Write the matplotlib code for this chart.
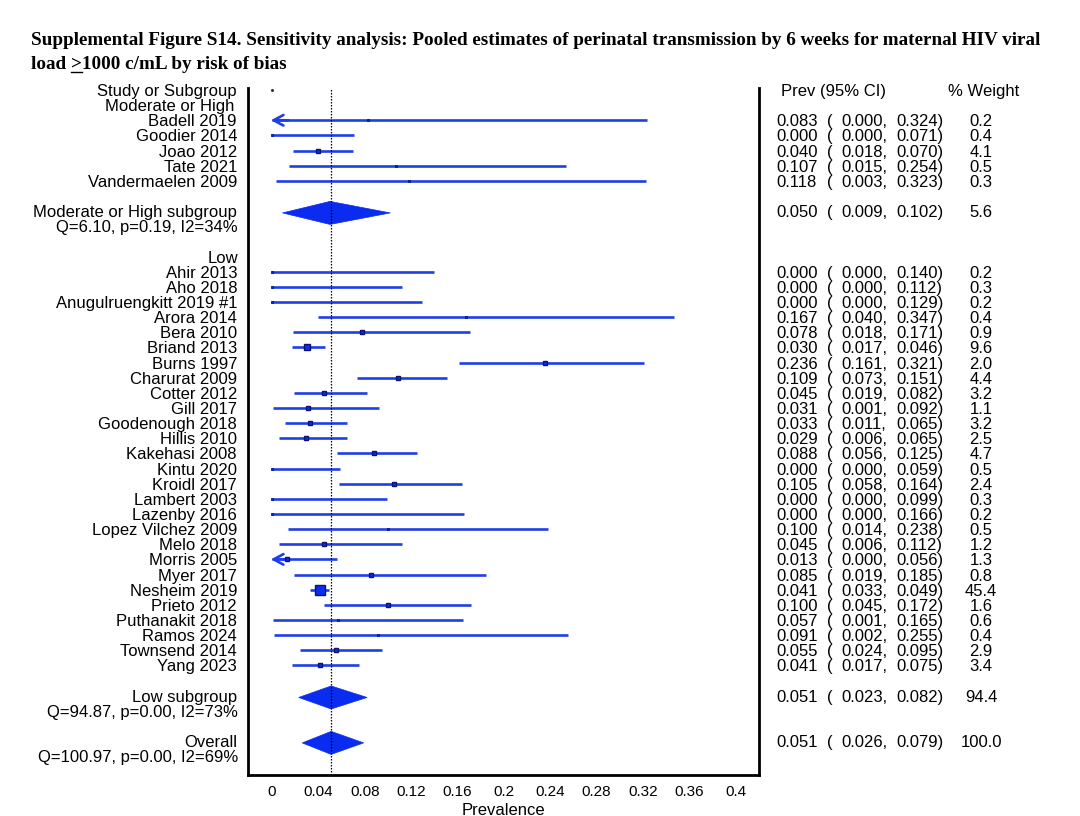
import numpy as np
import matplotlib
matplotlib.use("Agg")
import matplotlib.pyplot as plt
from matplotlib.transforms import blended_transform_factory
from matplotlib.patches import Polygon

plt.rcParams['font.family'] = ['Liberation Sans', 'DejaVu Sans']

# ---------------- data ----------------
mod_studies = ["Badell 2019", "Goodier 2014", "Joao 2012", "Tate 2021", "Vandermaelen 2009"]
mod_est = [0.083, 0.000, 0.040, 0.107, 0.118]
mod_lo = [0.000, 0.000, 0.018, 0.015, 0.003]
mod_hi = [0.324, 0.071, 0.070, 0.254, 0.323]
mod_w = [0.2, 0.4, 4.1, 0.5, 0.3]
mod_arrow = [True, False, False, False, False]

low_studies = ["Ahir 2013", "Aho 2018", "Anugulruengkitt 2019 #1", "Arora 2014", "Bera 2010",
               "Briand 2013", "Burns 1997", "Charurat 2009", "Cotter 2012", "Gill 2017",
               "Goodenough 2018", "Hillis 2010", "Kakehasi 2008", "Kintu 2020", "Kroidl 2017",
               "Lambert 2003", "Lazenby 2016", "Lopez Vilchez 2009", "Melo 2018", "Morris 2005",
               "Myer 2017", "Nesheim 2019", "Prieto 2012", "Puthanakit 2018", "Ramos 2024",
               "Townsend 2014", "Yang 2023"]
low_est = [0.000, 0.000, 0.000, 0.167, 0.078, 0.030, 0.236, 0.109, 0.045, 0.031,
           0.033, 0.029, 0.088, 0.000, 0.105, 0.000, 0.000, 0.100, 0.045, 0.013,
           0.085, 0.041, 0.100, 0.057, 0.091, 0.055, 0.041]
low_lo = [0.000, 0.000, 0.000, 0.040, 0.018, 0.017, 0.161, 0.073, 0.019, 0.001,
          0.011, 0.006, 0.056, 0.000, 0.058, 0.000, 0.000, 0.014, 0.006, 0.000,
          0.019, 0.033, 0.045, 0.001, 0.002, 0.024, 0.017]
low_hi = [0.140, 0.112, 0.129, 0.347, 0.171, 0.046, 0.321, 0.151, 0.082, 0.092,
          0.065, 0.065, 0.125, 0.059, 0.164, 0.099, 0.166, 0.238, 0.112, 0.056,
          0.185, 0.049, 0.172, 0.165, 0.255, 0.095, 0.075]
low_w = [0.2, 0.3, 0.2, 0.4, 0.9, 9.6, 2.0, 4.4, 3.2, 1.1,
         3.2, 2.5, 4.7, 0.5, 2.4, 0.3, 0.2, 0.5, 1.2, 1.3,
         0.8, 45.4, 1.6, 0.6, 0.4, 2.9, 3.4]
low_arrow = [False] * 19 + [True] + [False] * 7

pooled_names = ["Moderate or High subgroup", "Low subgroup", "Overall"]
pooled_stats = ["Q=6.10, p=0.19, I2=34%", "Q=94.87, p=0.00, I2=73%", "Q=100.97, p=0.00, I2=69%"]
pooled_est = [0.050, 0.051, 0.051]
pooled_lo = [0.009, 0.023, 0.026]
pooled_hi = [0.102, 0.082, 0.079]
pooled_w = [5.6, 94.4, 100.0]

xticks = [0, 0.04, 0.08, 0.12, 0.16, 0.2, 0.24, 0.28, 0.32, 0.36, 0.4]
xticklabels = ["0", "0.04", "0.08", "0.12", "0.16", "0.2", "0.24", "0.28", "0.32", "0.36", "0.4"]

title1 = "Supplemental Figure S14. Sensitivity analysis: Pooled estimates of perinatal transmission by 6 weeks for maternal HIV viral"
title2a = "load "
title2b = ">"
title2c = "1000 c/mL by risk of bias"

# ---------------- layout ----------------
W, H = 1080, 816
fig = plt.figure(figsize=(W / 100, H / 100), dpi=100)
ax = fig.add_axes([248 / W, 1 - 775 / H, (759 - 248) / W, (775 - 88) / H])
ax.set_xlim(-0.0208, 0.4203)
ax.set_ylim(45.24, -0.13)

LINE_C = "#1f3fe6"
SQ_FACE = "#0a2cf5"
SQ_EDGE = "#0a1470"
DIA_C = "#0a2cf0"

fs = 12
fsr = 12
trx = blended_transform_factory(fig.transFigure, ax.transData)

def px(x):
    return x / W

rows = []  # (row, label, est, lo, hi, w, arrow)
r = 2
for i in range(len(mod_studies)):
    rows.append((r, mod_studies[i], mod_est[i], mod_lo[i], mod_hi[i], mod_w[i], mod_arrow[i]))
    r += 1
r = 12
for i in range(len(low_studies)):
    rows.append((r, low_studies[i], low_est[i], low_lo[i], low_hi[i], low_w[i], low_arrow[i]))
    r += 1
pool_rows = [8, 40, 43]

# headers
ax.text(px(237), 0, "Study or Subgroup", transform=trx, ha="right", va="center_baseline", fontsize=fs)
ax.text(px(234), 1, "Moderate or High", transform=trx, ha="right", va="center_baseline", fontsize=fs)
ax.text(px(238), 11, "Low", transform=trx, ha="right", va="center_baseline", fontsize=fs)
ax.text(px(781), 0, "Prev (95% CI)", transform=trx, ha="left", va="center_baseline", fontsize=fsr)
ax.text(px(984), 0, "% Weight", transform=trx, ha="center", va="center_baseline", fontsize=fsr)
ax.plot([0], [0], marker="o", ms=1.2, color="#333333", ls="none", clip_on=False)

def right_cols(row, est, lo, hi, w):
    ax.text(px(776), row, f"{est:.3f}", transform=trx, ha="left", va="center_baseline", fontsize=fsr)
    ax.text(px(827), row, "(", transform=trx, ha="left", va="center_baseline", fontsize=fsr)
    ax.text(px(841), row, f"{lo:.3f},", transform=trx, ha="left", va="center_baseline", fontsize=fsr)
    ax.text(px(896), row, f"{hi:.3f})", transform=trx, ha="left", va="center_baseline", fontsize=fsr)
    ax.text(px(981), row, f"{w:.1f}", transform=trx, ha="center", va="center_baseline", fontsize=fsr)

def marker_px(w):
    if w < 0.7:
        return 2.2
    return 4.4 + 0.12 * w

for (row, lab, est, lo, hi, w, arrow) in rows:
    ax.text(px(237), row, lab, transform=trx, ha="right", va="center_baseline", fontsize=fs)
    ax.plot([lo, hi], [row, row], color=LINE_C, lw=1.9, solid_capstyle="butt", zorder=2)
    if arrow:
        ax.annotate("", xy=(lo - 0.001, row), xytext=(lo + 0.014, row),
                    arrowprops=dict(arrowstyle="->,head_length=0.7,head_width=0.38",
                                    color=LINE_C, lw=1.9, shrinkA=0, shrinkB=0), zorder=3)
    side_px = marker_px(w)
    ax.plot([est], [row], marker="s", ms=side_px / 1.389, mfc=SQ_FACE, mec=SQ_EDGE,
            mew=1.0 if w >= 0.7 else 0.6, ls="none", zorder=4, clip_on=False)
    right_cols(row, est, lo, hi, w)

for k in range(3):
    row = pool_rows[k]
    ax.text(px(237), row, pooled_names[k], transform=trx, ha="right", va="center_baseline", fontsize=fs)
    ax.text(px(238), row + 1, pooled_stats[k], transform=trx, ha="right", va="center_baseline", fontsize=fs)
    yc = row + 0.12
    h = 0.76
    poly = Polygon([(pooled_lo[k], yc), (pooled_est[k], yc - h), (pooled_hi[k], yc), (pooled_est[k], yc + h)],
                   closed=True, facecolor=DIA_C, edgecolor=DIA_C, lw=0.5, zorder=3)
    ax.add_patch(poly)
    right_cols(row, pooled_est[k], pooled_lo[k], pooled_hi[k], pooled_w[k])

ax.axvline(pooled_est[2], color="black", lw=0.9, ls=(0, (1.2, 1.2)), zorder=5)

# axes style
ax.spines["top"].set_visible(False)
for s in ["left", "right", "bottom"]:
    ax.spines[s].set_linewidth(2.0)
ax.set_yticks([])
ax.set_xticks(xticks)
ax.set_xticklabels(xticklabels, fontsize=11)
ax.tick_params(axis="x", length=0, pad=7)
ax.set_xlabel("Prevalence", fontsize=fs, labelpad=3)

# title
tkw = dict(family=["Liberation Serif", "DejaVu Serif"], fontweight="bold", fontsize=13.8)
fig.text(px(31), 1 - 45 / H, title1, ha="left", va="baseline", **tkw)
t_a = fig.text(px(31), 1 - 69 / H, title2a, ha="left", va="baseline", **tkw)
fig.canvas.draw()
rend = fig.canvas.get_renderer()
bb = t_a.get_window_extent(rend)
t_b = fig.text(bb.x1 / W, 1 - 69 / H, title2b, ha="left", va="baseline", **tkw)
bb2 = t_b.get_window_extent(rend)
t_c = fig.text(bb2.x1 / W, 1 - 69 / H, title2c, ha="left", va="baseline", **tkw)
uy = 1 - 71.5 / H
fig.add_artist(plt.Line2D([bb2.x0 / W, bb2.x1 / W], [uy, uy], transform=fig.transFigure,
                          color="black", lw=1.0))

fig.savefig("out.png", dpi=100)
